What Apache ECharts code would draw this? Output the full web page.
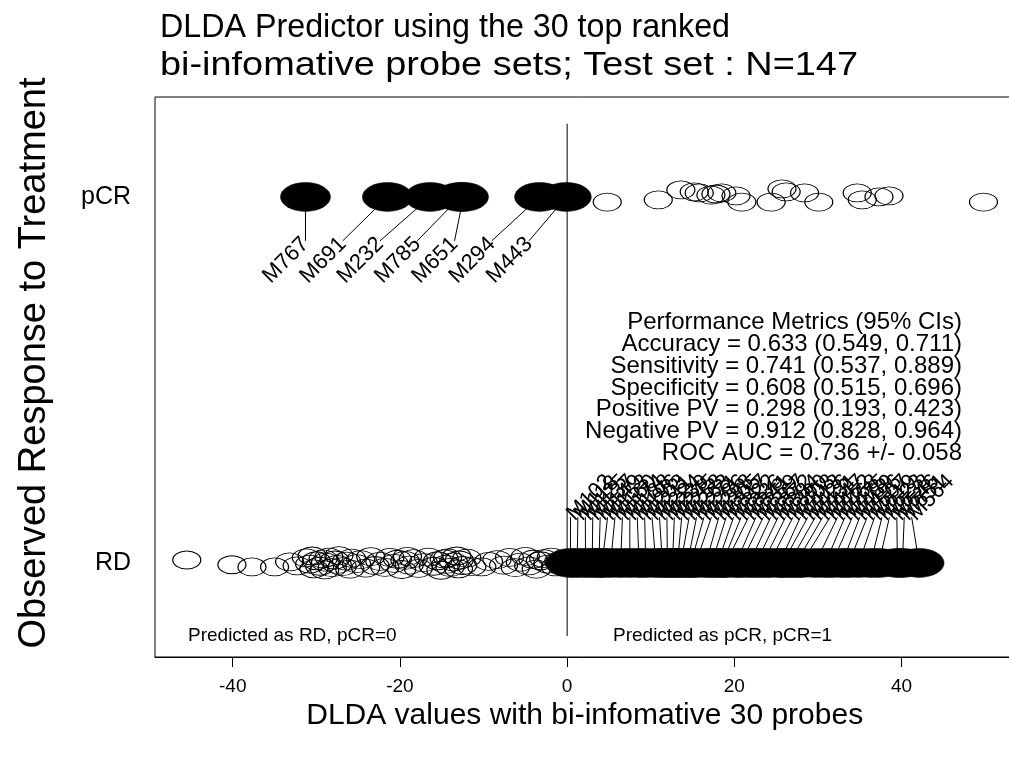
<!DOCTYPE html>
<html>
<head>
<meta charset="utf-8">
<script src="https://cdn.jsdelivr.net/npm/echarts@6/dist/echarts.min.js"></script>
<style>
  html, body { margin: 0; padding: 0; background: #fff; }
  #chart { width: 1009px; height: 759px; }
</style>
</head>
<body>
<div id="chart"></div>
<script>
// DLDA scores of the test set (N=147), one row per observed response class.
const titleLines = ['DLDA Predictor using the 30 top ranked', 'bi-infomative probe sets; Test set : N=147'];
const xTickValues = [-40, -20, 0, 20, 40];
const classNames = ['RD', 'pCR'];

// pCR correctly predicted (score > 0), with vertical jitter
const pcrOpenX = [4.8, 10.9, 13.6, 15.2, 15.8, 17.2, 17.8, 18.5, 20.2, 20.9,
                  24.4, 25.7, 26.2, 28.4, 30.1, 34.7, 35.3, 37.3, 38.5, 49.8];
const pcrOpenY = [0.986, 0.992, 1.019, 1.014, 1.011, 1.005, 1.008, 1.011, 1.003, 0.986,
                  0.986, 1.022, 1.014, 1.011, 0.986, 1.011, 0.992, 1.000, 1.003, 0.986];

// pCR predicted as RD (score < 0), labelled by sample
const pcrMissX = [-31.3, -21.5, -16.4, -12.8, -12.4, -3.3, -0.1];
const pcrMissIds = ['M767', 'M691', 'M232', 'M785', 'M651', 'M294', 'M443'];

// RD correctly predicted (score < 0), with vertical jitter
const rdOpenX = [-45.5, -40.1, -37.7, -35.0, -33.2, -32.3, -31.2, -30.8, -30.5, -30.3,
                 -30.0, -29.6, -29.2, -29.0, -28.9, -28.5, -28.1, -27.8, -27.5, -27.3,
                 -26.9, -26.4, -26.0, -25.8, -25.2, -24.7, -24.1, -23.5, -23.0, -22.4,
                 -21.8, -21.2, -20.7, -20.3, -19.8, -19.4, -19.1, -18.9, -18.4, -17.8,
                 -17.2, -16.6, -16.0, -15.5, -15.1, -14.7, -14.5, -14.3, -14.0, -13.6,
                 -13.2, -13.0, -12.9, -12.5, -12.0, -11.4, -10.2, -9.4, -8.4, -7.6,
                 -6.9, -6.2, -5.6, -5.0, -4.6, -4.1, -3.7, -3.2, -2.8, -2.3,
                 -1.9, -1.4, -1.0];
const rdOpenY = [0.008, -0.005, -0.011, -0.011, 0.003, -0.008, 0.014, -0.003, 0.019, -0.016,
                 0.006, -0.009, 0.011, -0.019, 0.002, 0.016, -0.013, 0.008, -0.004, 0.020,
                 -0.010, 0.005, -0.017, 0.013, -0.002, 0.009, -0.014, 0.017, -0.007, 0.004,
                 -0.012, 0.015, -0.001, 0.010, -0.018, 0.007, 0.018, -0.006, 0.012, -0.015,
                 0.001, 0.016, -0.009, 0.006, -0.020, 0.011, -0.004, 0.014, -0.012, 0.003,
                 0.019, -0.016, 0.008, -0.007, 0.013, -0.010, -0.011, 0.004, 0.009, -0.006,
                 0.015, -0.013, 0.002, 0.018, -0.008, 0.010, -0.017, 0.006, 0.012, -0.003,
                 0.016, -0.011, 0.005];

// RD predicted as pCR (score > 0), labelled by sample
const rdMissX = [0.4, 1.2, 2.2, 3.0, 3.8, 4.2, 5.2, 6.4, 7.5, 8.6,
                 9.4, 10.6, 11.4, 12.0, 12.6, 13.2, 13.6, 14.4, 14.8, 15.4,
                 16.6, 17.3, 18.0, 18.6, 19.0, 20.2, 20.8, 21.8, 22.6, 23.4,
                 24.2, 25.4, 25.8, 26.6, 27.4, 28.1, 29.7, 30.9, 31.7, 32.9,
                 33.7, 34.9, 36.3, 37.3, 39.5, 40.1, 42.1];
const rdMissIds = ['M102', 'M118', 'M125', 'M137', 'M149', 'M153', 'M160', 'M174', 'M188', 'M196',
                   'M203', 'M211', 'M224', 'M239', 'M245', 'M258', 'M263', 'M271', 'M286', 'M298',
                   'M305', 'M317', 'M322', 'M336', 'M341', 'M359', 'M367', 'M372', 'M384', 'M390',
                   'M408', 'M413', 'M426', 'M431', 'M447', 'M452', 'M468', 'M475', 'M489', 'M496',
                   'M507', 'M519', 'M523', 'M538', 'M546', 'M551', 'M564'];

const metricLines = [
  'Performance Metrics (95% CIs)',
  'Accuracy = 0.633 (0.549, 0.711)',
  'Sensitivity = 0.741 (0.537, 0.889)',
  'Specificity = 0.608 (0.515, 0.696)',
  'Positive PV = 0.298 (0.193, 0.423)',
  'Negative PV = 0.912 (0.828, 0.964)',
  'ROC AUC = 0.736 +/- 0.058'
];

const FONT = '"Liberation Sans", Arial, Helvetica, sans-serif';
const ELLIPSE = 'path://M0 50 A50 50 0 1 1 100 50 A50 50 0 1 1 0 50 Z';
const OPEN_SIZE = [28, 18];
const FILLED_SIZE = [50, 29];

// Title lines are set in a fixed width box each.
const TITLE_SIZE = 34;
const titleWidths = [570, 698];
const measureCtx = document.createElement('canvas').getContext('2d');
measureCtx.font = TITLE_SIZE + 'px ' + FONT;
const titleScale = titleLines.map((t, i) => titleWidths[i] / measureCtx.measureText(t).width);

// Sample labels are spread evenly along the row; the label sits a little
// below (pCR row) or above (RD row) the points and is joined to its point.
function spreadLabels(xs, yRow, yLabel) {
  const lo = Math.min.apply(null, xs), hi = Math.max.apply(null, xs);
  const step = (hi - lo) / xs.length;
  return xs.map((x, i) => [x, yRow, lo + i * step, yLabel]);
}

function labelRenderer(ids, align) {
  return function (params, api) {
    const p = api.coord([api.value(0), api.value(1)]);
    const q = api.coord([api.value(2), api.value(3)]);
    return {
      type: 'group',
      children: [
        { type: 'line', shape: { x1: p[0], y1: p[1], x2: q[0], y2: q[1] },
          style: { stroke: '#000', lineWidth: 1 } },
        { type: 'text', x: q[0], y: q[1], rotation: Math.PI / 4,
          style: { text: ids[params.dataIndex], fill: '#000', fontSize: 22, fontFamily: FONT,
                   align: align, verticalAlign: 'middle' } }
      ]
    };
  };
}

const openStyle = { color: 'rgba(0,0,0,0)', borderColor: '#000', borderWidth: 1, opacity: 1 };
const filledStyle = { color: '#000', borderColor: '#000', borderWidth: 0.5, opacity: 1 };

const chart = echarts.init(document.getElementById('chart'), null, { renderer: 'canvas' });

chart.setOption({
  animation: false,
  backgroundColor: '#fff',
  textStyle: { fontFamily: FONT, color: '#000' },
  grid: {
    left: 155, top: 97, width: 859.4, height: 560,
    show: true, borderColor: '#000', borderWidth: 1, backgroundColor: 'transparent',
    containLabel: false, outerBoundsMode: 'none'
  },
  xAxis: {
    type: 'value', min: -49.3, max: 53.5,
    name: 'DLDA values with bi-infomative 30 probes',
    nameLocation: 'middle', nameGap: 44,
    nameTextStyle: { fontSize: 30, color: '#000', fontFamily: FONT },
    axisLine: { show: true, onZero: false, lineStyle: { color: '#000', width: 1 } },
    axisTick: { show: true, inside: false, length: 10, lineStyle: { color: '#000', width: 1 },
                customValues: xTickValues },
    axisLabel: { fontSize: 19, color: '#000', margin: 20, customValues: xTickValues, fontFamily: FONT },
    splitLine: { show: false }
  },
  yAxis: {
    type: 'value', min: -0.257, max: 1.273,
    name: 'Observed Response to Treatment',
    nameLocation: 'middle', nameGap: 101, nameRotate: 90,
    nameTextStyle: { fontSize: 38, color: '#000', fontFamily: FONT, padding: [0, 0, 0, 28] },
    axisLine: { show: false },
    axisTick: { show: false },
    axisLabel: { fontSize: 25, color: '#000', margin: 24, customValues: [0, 1],
                 formatter: v => classNames[Math.round(v)], fontFamily: FONT },
    splitLine: { show: false }
  },
  series: [
    { // decision threshold
      type: 'line', data: [[0, -0.2], [0, 1.2]], symbol: 'none', silent: true,
      lineStyle: { color: '#000', width: 1 }
    },
    {
      type: 'custom', renderItem: labelRenderer(pcrMissIds, 'right'),
      data: spreadLabels(pcrMissX, 1, 0.88),
      encode: { x: 0, y: 1 }, silent: true
    },
    {
      type: 'custom', renderItem: labelRenderer(rdMissIds, 'left'),
      data: spreadLabels(rdMissX, 0, 0.125),
      encode: { x: 0, y: 1 }, silent: true
    },
    {
      type: 'scatter', symbol: ELLIPSE, symbolSize: OPEN_SIZE, silent: true,
      data: pcrOpenX.map((x, i) => [x, pcrOpenY[i]]), itemStyle: openStyle
    },
    {
      type: 'scatter', symbol: ELLIPSE, symbolSize: OPEN_SIZE, silent: true,
      data: rdOpenX.map((x, i) => [x, rdOpenY[i]]), itemStyle: openStyle
    },
    {
      type: 'scatter', symbol: ELLIPSE, symbolSize: FILLED_SIZE, silent: true,
      data: pcrMissX.map(x => [x, 1]), itemStyle: filledStyle
    },
    {
      type: 'scatter', symbol: ELLIPSE, symbolSize: FILLED_SIZE, silent: true,
      data: rdMissX.map(x => [x, 0]), itemStyle: filledStyle
    }
  ],
  graphic: [
    {
      type: 'text', x: 160, y: 28, scaleX: titleScale[0],
      style: { text: titleLines[0], fontSize: TITLE_SIZE, fill: '#000', fontFamily: FONT,
               align: 'left', verticalAlign: 'middle' }
    },
    {
      type: 'text', x: 160, y: 66, scaleX: titleScale[1],
      style: { text: titleLines[1], fontSize: TITLE_SIZE, fill: '#000', fontFamily: FONT,
               align: 'left', verticalAlign: 'middle' }
    },
    {
      type: 'text', x: 962, y: 312,
      style: { text: metricLines.join('\n'), fontSize: 24, lineHeight: 21.7, align: 'right',
               verticalAlign: 'top', fill: '#000', fontFamily: FONT }
    },
    {
      type: 'text', left: 188, top: 626,
      style: { text: 'Predicted as RD, pCR=0', fontSize: 19, fill: '#000', fontFamily: FONT }
    },
    {
      type: 'text', left: 613, top: 626,
      style: { text: 'Predicted as pCR, pCR=1', fontSize: 19, fill: '#000', fontFamily: FONT }
    }
  ]
});
</script>
</body>
</html>
